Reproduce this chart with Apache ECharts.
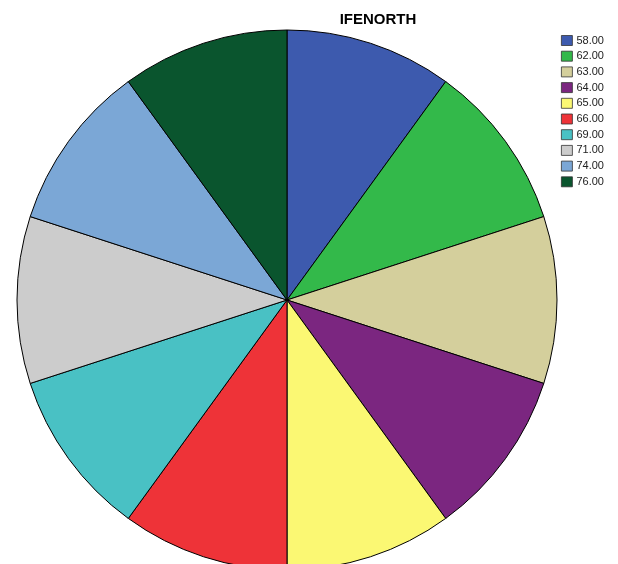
<!DOCTYPE html>
<html><head><meta charset="utf-8">
<script src="https://cdn.jsdelivr.net/npm/echarts@6/dist/echarts.min.js"></script>
<style>html,body{margin:0;padding:0;background:#fff}#c{width:618px;height:564px}</style>
</head><body><div id="c"></div>
<script>
const categories = ['58.00','62.00','63.00','64.00','65.00','66.00','69.00','71.00','74.00','76.00'];
const counts = [1,1,1,1,1,1,1,1,1,1];
const colors = ['#3D5AAE','#33B94A','#D4CF9C','#7B2680','#FBF873','#EE3338','#49C1C4','#CCCCCC','#7BA7D6','#0A552E'];
const chart = echarts.init(document.getElementById('c'));
chart.setOption({
  animation:false,
  title:{text:'IFENORTH',left:373,top:7,textAlign:'center',textStyle:{fontFamily:'Liberation Sans',fontWeight:'bold',fontSize:15,color:'#000'}},
  legend:{orient:'vertical',left:556,top:30,itemWidth:11,itemHeight:10,itemGap:4.7,icon:'rect',
    itemStyle:{borderColor:'#333',borderWidth:0.8},
    textStyle:{fontFamily:'Liberation Sans',fontSize:11,color:'#222',padding:[0,0,0,-1]},
    data:categories},
  series:[{type:'pie',center:[287,300],radius:270,startAngle:90,clockwise:true,label:{show:false},labelLine:{show:false},
    itemStyle:{borderColor:'#000',borderWidth:1},
    data:categories.map((c,i)=>({name:c,value:counts[i],itemStyle:{color:colors[i]}}))}]
});
</script></body></html>
